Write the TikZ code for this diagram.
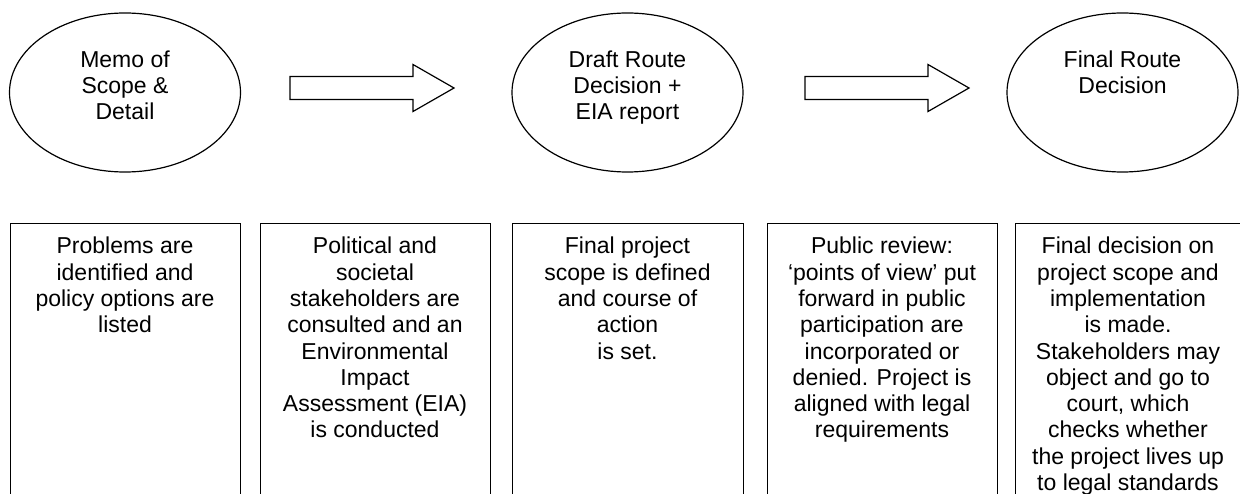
\documentclass[tikz,border=0pt]{standalone}
\usepackage{fontspec}
\setmainfont{Liberation Sans}
\usetikzlibrary{shapes.geometric}
\begin{document}
\begin{tikzpicture}[x=1pt,y=-1pt,
  stage/.style={draw, line width=1.2pt, ellipse, minimum width=231pt, minimum height=159pt, inner sep=0pt},
  labeltext/.style={anchor=north, align=center, inner sep=0pt, font=\fontsize{23}{26.3}\selectfont},
  descbox/.style={draw, line width=1.2pt, rectangle, anchor=north west, minimum height=290pt, inner sep=0pt},
  blockarrow/.style={draw, line width=1.2pt, line join=miter, fill=white}]
\useasboundingbox (0,0) rectangle (1240,494);
\fill[white] (0,0) rectangle (1240,494);

% stages
\node[stage] (e1) at (125,92.5) {};
\node[stage] (e2) at (627.5,92.5) {};
\node[stage] (e3) at (1122.5,92.5) {};
\node[labeltext] (t1) at (125,50.5) {Memo of\\Scope \&\\Detail};
\node[labeltext] (t2) at (627.5,50.5) {Draft Route\\Decision +\\EIA report};
\node[labeltext] (t3) at (1122.5,50.5) {Final Route\\Decision};

% block arrows
\coordinate (a1) at (290,88);
\coordinate (a2) at (805,88);
\draw[blockarrow] ([yshift=11.5pt]a1) -- ++(123,0) -- ++(0,-12) -- ++(41,23.5) -- ++(-41,23.5) -- ++(0,-12) -- ++(-123,0) -- cycle;
\draw[blockarrow] ([yshift=11.5pt]a2) -- ++(123,0) -- ++(0,-12) -- ++(41,23.5) -- ++(-41,23.5) -- ++(0,-12) -- ++(-123,0) -- cycle;

% description boxes
\node[descbox, minimum width=230pt] (b1) at (10,223) {};
\node[descbox, minimum width=230pt] (b2) at (260,223) {};
\node[descbox, minimum width=231pt] (b3) at (512,223) {};
\node[descbox, minimum width=230pt] (b4) at (767,223) {};
\node[descbox, minimum width=226pt] (b5) at (1015,223) {};

\node[labeltext] (d1) at (125,237) {Problems are\\identified and\\policy options are\\listed};
\node[labeltext] (d2) at (375,237) {Political and\\societal\\stakeholders are\\consulted and an\\Environmental\\Impact\\Assessment (EIA)\\is conducted};
\node[labeltext] (d3) at (627.5,237) {Final project\\scope is defined\\and course of\\action\\is set.};
\node[labeltext] (d4) at (882,237) {Public review:\\‘points of view’ put\\forward in public\\participation are\\incorporated or\\denied. Project is\\aligned with legal\\requirements};
\node[labeltext] (d5) at (1128,237) {Final decision on\\project scope and\\implementation\\is made.\\Stakeholders may\\object and go to\\court, which\\checks whether\\the project lives up\\to legal standards};
\end{tikzpicture}
\end{document}
